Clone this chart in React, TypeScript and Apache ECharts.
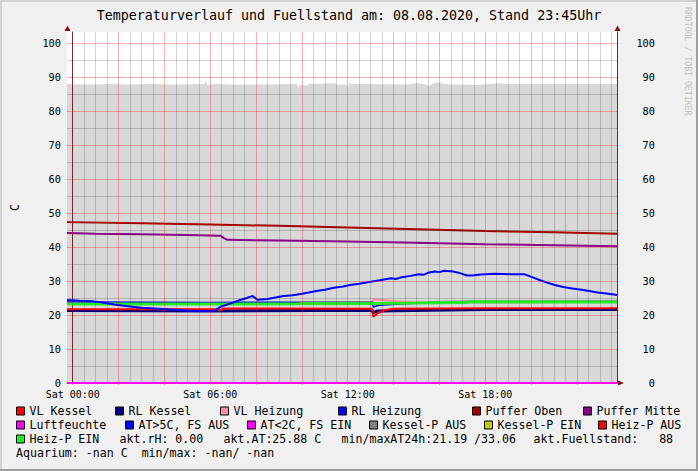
import React, { useEffect, useRef } from 'react';
import * as echarts from 'echarts';

// ---------- texts ----------
const TITLE = 'Temperaturverlauf und Fuellstand am: 08.08.2020, Stand 23:45Uhr';
const Y_NAME = 'C';
const WATERMARK = 'RRDTOOL / TOBI OETIKER';
const X_TICK_HOURS = [0, 6, 12, 18];
const X_TICK_LABELS = ['Sat 00:00', 'Sat 06:00', 'Sat 12:00', 'Sat 18:00'];
const Y_TICKS = [0, 10, 20, 30, 40, 50, 60, 70, 80, 90, 100];
const INFO_ROW3 = ['akt.rH: 0.00', 'akt.AT:25.88 C', 'min/maxAT24h:21.19 /33.06', 'akt.Fuellstand:   88'];
const INFO_ROW4 = 'Aquarium: -nan C  min/max: -nan/ -nan';

// ---------- grid positions (hours / degrees) ----------
const GRID_MAJOR_HOURS = [0, 2, 4, 6, 8, 10, 12, 14, 16, 18, 20, 22];
const GRID_MINOR_HOURS = [
  0.5, 1, 1.5, 2.5, 3, 3.5, 4.5, 5, 5.5, 6.5, 7, 7.5, 8.5, 9, 9.5, 10.5, 11, 11.5,
  12.5, 13, 13.5, 14.5, 15, 15.5, 16.5, 17, 17.5, 18.5, 19, 19.5, 20.5, 21, 21.5, 22.5, 23, 23.5,
];
const GRID_MAJOR_Y = [10, 20, 30, 40, 50, 60, 70, 80, 90, 100];
const GRID_MINOR_Y = [5, 15, 25, 35, 45, 55, 65, 75, 85, 95];

// ---------- data: [hour, value] ----------
const FUELLSTAND: [number, number][] = [
  [-0.25, 87.9], [1.0, 87.8], [1.6, 87.9], [2.4, 87.8], [3.3, 87.9], [4.5, 87.8], [5.75, 87.9],
  [5.8, 89.0], [5.85, 87.8], [6.3, 87.9], [7.3, 87.7], [8.5, 87.8], [9.5, 87.9], [9.8, 87.9],
  [9.85, 86.6], [9.9, 87.8], [10.2, 87.4], [10.3, 87.9], [11.4, 88.1], [11.6, 87.7], [12.0, 87.8],
  [12.03, 86.3], [12.07, 88.9], [12.12, 87.9], [12.6, 87.9], [14.5, 87.8], [15.1, 88.1], [15.3, 87.9],
  [15.55, 87.4], [15.7, 87.9], [15.9, 88.4], [16.2, 87.9], [17.6, 87.6], [18.6, 88.1], [19.0, 87.9],
  [23.75, 87.9],
];
const PUFFER_OBEN: [number, number][] = [
  [-0.25, 47.3], [3, 47.0], [6, 46.6], [9, 46.2], [12, 45.7], [15, 45.2], [18, 44.7], [21, 44.3], [23.75, 43.9],
];
const PUFFER_MITTE: [number, number][] = [
  [-0.25, 44.1], [1, 43.9], [3, 43.7], [5, 43.5], [6.45, 43.3], [6.6, 42.6], [6.75, 42.1], [9, 41.9],
  [12, 41.6], [15, 41.2], [18, 40.8], [21, 40.5], [23.75, 40.2],
];
const RL_KESSEL: [number, number][] = [
  [-0.25, 21.3], [6, 21.2], [13.05, 21.4], [13.12, 20.7], [13.3, 21.2], [18, 21.6], [23.75, 21.6],
];
const VL_KESSEL: [number, number][] = [
  [-0.25, 21.7], [6.3, 21.7], [6.4, 21.3], [6.6, 21.9], [13.05, 21.8], [13.12, 19.5], [13.3, 20.5],
  [13.6, 21.4], [14, 21.8], [18, 22.0], [23.75, 22.0],
];
const VL_HEIZUNG: [number, number][] = [
  [-0.25, 23.4], [13.08, 23.5], [13.12, 24.6], [13.5, 24.4], [14.0, 24.1], [14.5, 23.9], [15, 23.7], [23.75, 23.8],
];
const RL_HEIZUNG: [number, number][] = [
  [-0.25, 23.8], [6, 23.7], [12, 23.8], [13.05, 23.9], [13.12, 22.3], [13.3, 22.8], [13.7, 23.0],
  [14.5, 23.3], [15.5, 23.6], [18, 23.8], [23.75, 24.0],
];
const KESSEL_P_AUS: [number, number | null][] = [
  [9.9, 23.8], [13.05, 23.9], [13.12, null], [15.5, 23.9], [18, 24.1], [23.75, 24.1],
];
const KESSEL_P_EIN: [number, number][] = [];
const HEIZ_P_EIN: [number, number][] = [
  [-0.25, 23.2], [6, 23.2], [9.9, 23.3], [13, 23.4], [15, 23.5], [17.2, 23.7], [17.3, 23.9], [20, 23.8], [23.75, 23.8],
];
const HEIZ_P_AUS: [number, number][] = [];
const AT_UEBER_5: [number, number][] = [
  [-0.25, 24.4], [0.3, 24.2], [0.9, 24.0], [1.3, 23.7], [1.8, 23.1], [2.4, 22.6], [3.0, 22.1], [3.6, 21.9],
  [4.1, 21.7], [4.8, 21.4], [5.4, 21.2], [6.0, 21.2], [6.2, 21.3], [6.45, 22.4], [6.9, 23.4], [7.3, 24.4],
  [7.6, 25.0], [7.85, 25.6], [8.05, 24.5], [8.5, 24.7], [8.9, 25.2], [9.2, 25.6], [9.6, 25.8], [9.95, 26.2],
  [10.3, 26.6], [10.7, 27.1], [11.0, 27.4], [11.4, 28.0], [11.8, 28.4], [12.1, 28.8], [12.5, 29.2],
  [13.0, 29.8], [13.4, 30.2], [13.9, 30.8], [14.1, 30.6], [14.3, 31.0], [14.75, 31.5], [15.1, 32.0],
  [15.3, 31.8], [15.5, 32.4], [15.8, 32.8], [16.0, 32.6], [16.2, 33.0], [16.6, 32.8], [16.9, 32.3],
  [17.2, 31.6], [17.5, 31.7], [17.8, 31.9], [18.4, 32.1], [19.1, 32.0], [19.7, 32.0], [20.1, 31.0],
  [20.4, 30.2], [20.7, 29.5], [21.0, 28.9], [21.4, 28.2], [21.8, 27.8], [22.2, 27.4], [22.6, 27.0],
  [22.9, 26.6], [23.3, 26.3], [23.75, 25.9],
];
const AT_UNTER_2: [number, number][] = [];
const LUFTFEUCHTE: [number, number][] = [[-0.25, 0], [23.75, 0]];

// ---------- series styling ----------
const SERIES = [
  { name: 'Puffer Oben', data: PUFFER_OBEN, color: '#a50000', width: 2 },
  { name: 'Puffer Mitte', data: PUFFER_MITTE, color: '#880088', width: 2 },
  { name: 'RL Kessel', data: RL_KESSEL, color: '#00007f', width: 3 },
  { name: 'VL Kessel', data: VL_KESSEL, color: '#ff0000', width: 2 },
  { name: 'VL Heizung', data: VL_HEIZUNG, color: '#ff8da1', width: 2 },
  { name: 'RL Heizung', data: RL_HEIZUNG, color: '#0000ff', width: 1.5 },
  { name: 'Kessel-P AUS', data: KESSEL_P_AUS, color: '#808080', width: 1.5 },
  { name: 'Kessel-P EIN', data: KESSEL_P_EIN, color: '#c8c800', width: 1.5 },
  { name: 'Heiz-P EIN', data: HEIZ_P_EIN, color: '#22ee22', width: 3 },
  { name: 'Heiz-P AUS', data: HEIZ_P_AUS, color: '#ff0000', width: 2 },
  { name: 'AT>5C, FS AUS', data: AT_UEBER_5, color: '#0000ff', width: 2 },
  { name: 'AT<2C, FS EIN', data: AT_UNTER_2, color: '#ff00ff', width: 2 },
  { name: 'Luftfeuchte', data: LUFTFEUCHTE, color: '#ff00ff', width: 2 },
];

// legend layout: [name, left, rowCenterY]
const LEGEND_LAYOUT: [string, number, number][] = [
  ['VL Kessel', 16, 411], ['RL Kessel', 115, 411], ['VL Heizung', 220, 411], ['RL Heizung', 338, 411],
  ['Puffer Oben', 472, 411], ['Puffer Mitte', 583, 411],
  ['Luftfeuchte', 16, 425], ['AT>5C, FS AUS', 125, 425], ['AT<2C, FS EIN', 247, 425], ['Kessel-P AUS', 369, 425],
  ['Kessel-P EIN', 484, 425], ['Heiz-P AUS', 598, 425],
  ['Heiz-P EIN', 16, 439],
];
const INFO_ROW3_X = [120, 224, 342, 534];

const MONO = "'DejaVu Sans Mono', monospace";
const RED_GRID = 'rgba(255,0,0,0.3)';
const GRAY_GRID = 'rgba(0,0,0,0.17)';

export default function App() {
  const ref = useRef<HTMLDivElement>(null);

  useEffect(() => {
    if (!ref.current) return;
    const chart = echarts.init(ref.current, undefined, { renderer: 'svg' });

    const gridLines: any[] = [
      ...GRID_MINOR_HOURS.map((h) => ({ xAxis: h, lineStyle: { color: GRAY_GRID, width: 1, type: 'solid' } })),
      ...GRID_MINOR_Y.map((v) => ({ yAxis: v, lineStyle: { color: GRAY_GRID, width: 1, type: 'solid' } })),
      ...GRID_MAJOR_HOURS.map((h) => ({ xAxis: h, lineStyle: { color: RED_GRID, width: 1, type: 'solid' } })),
      ...GRID_MAJOR_Y.map((v) => ({ yAxis: v, lineStyle: { color: RED_GRID, width: 1, type: 'solid' } })),
    ];

    const axisLine = { show: true, lineStyle: { color: '#3a3a3a', width: 1 } };

    const option: any = {
      animation: false,
      title: {
        text: TITLE,
        left: 'center',
        top: 9,
        padding: 0,
        textStyle: { fontFamily: MONO, fontSize: 13.3, fontWeight: 'normal', color: '#000' },
      },
      grid: { left: 67, right: 81, top: 32, bottom: 88, show: true, backgroundColor: '#ffffff', borderWidth: 0 },
      xAxis: {
        type: 'value',
        min: -0.25,
        max: 23.75,
        z: 3,
        axisLine,
        splitLine: { show: false },
        axisTick: { show: true, customValues: GRID_MAJOR_HOURS, length: 2, lineStyle: { color: RED_GRID } },
        axisLabel: {
          customValues: X_TICK_HOURS,
          formatter: (v: number) => X_TICK_LABELS[X_TICK_HOURS.indexOf(v)] ?? '',
          fontFamily: MONO,
          fontSize: 10,
          color: '#000',
          margin: 6,
        },
      },
      yAxis: [
        {
          type: 'value',
          min: 0,
          max: 103.2,
          z: 3,
          name: Y_NAME,
          nameLocation: 'middle',
          nameGap: 46,
          nameTextStyle: { fontFamily: MONO, fontSize: 11.6, color: '#000' },
          axisLine,
          splitLine: { show: false },
          axisTick: { show: false },
          axisLabel: { customValues: Y_TICKS, fontFamily: MONO, fontSize: 10.3, color: '#000', margin: 6 },
        },
        {
          type: 'value',
          position: 'right',
          min: 0,
          max: 103.2,
          z: 3,
          axisLine,
          splitLine: { show: false },
          axisTick: { show: false },
          axisLabel: { customValues: Y_TICKS, fontFamily: MONO, fontSize: 10.3, color: '#000', margin: 38, align: 'right' },
        },
      ],
      legend: LEGEND_LAYOUT.map(([name, left, cy]) => ({
        data: [name],
        left,
        top: cy - 7,
        padding: 0,
        itemGap: 0,
        itemWidth: 8,
        itemHeight: 8,
        icon: 'rect',
        selectedMode: false,
        itemStyle: { borderColor: '#000', borderWidth: 1 },
        lineStyle: { opacity: 0 },
        textStyle: { fontFamily: MONO, fontSize: 11.6, color: '#000', lineHeight: 14, padding: 0 },
      })),
      graphic: [
        {
          type: 'text',
          x: 688,
          y: 7,
          rotation: -Math.PI / 2,
          style: { text: WATERMARK, fontFamily: MONO, fontSize: 8.2, fill: '#c4c4c4', align: 'left', verticalAlign: 'middle' },
        },
        ...INFO_ROW3.map((t, i) => ({
          type: 'text',
          x: INFO_ROW3_X[i] - 0.5,
          y: 439,
          style: { text: t, fontFamily: MONO, fontSize: 11.6, fill: '#000', align: 'left', verticalAlign: 'middle' },
        })),
        {
          type: 'text',
          x: 16,
          y: 453,
          style: { text: INFO_ROW4, fontFamily: MONO, fontSize: 11.6, fill: '#000', align: 'left', verticalAlign: 'middle' },
        },
        { type: 'polygon', shape: { points: [[64.5, 31], [70.5, 31], [67.5, 25.5]] }, style: { fill: '#7f1010' }, z: 10 },
        { type: 'polygon', shape: { points: [[614.5, 31], [620.5, 31], [617.5, 25.5]] }, style: { fill: '#7f1010' }, z: 10 },
        { type: 'polygon', shape: { points: [[618, 380.5], [618, 385.5], [624, 383]] }, style: { fill: '#7f1010' }, z: 10 },
      ],
      series: [
        {
          type: 'line',
          name: 'Fuellstand',
          data: FUELLSTAND,
          z: 1,
          showSymbol: false,
          symbol: 'none',
          lineStyle: { width: 0 },
          areaStyle: { color: '#d8d8d8', opacity: 1 },
          silent: true,
        },
        {
          type: 'line',
          name: 'grid',
          data: [],
          z: 2,
          silent: true,
          markLine: {
            silent: true,
            symbol: ['none', 'none'],
            label: { show: false },
            emphasis: { disabled: true },
            data: gridLines,
          },
        },
        ...SERIES.map((s) => ({
          type: 'line',
          name: s.name,
          data: s.data,
          z: 4,
          showSymbol: false,
          symbol: 'none',
          connectNulls: false,
          color: s.color,
          lineStyle: { color: s.color, width: s.width },
          itemStyle: { color: s.color },
          emphasis: { disabled: true },
          silent: true,
        })),
      ],
    };

    chart.setOption(option);
    return () => chart.dispose();
  }, []);

  return (
    <div
      style={{
        position: 'fixed',
        left: 0,
        top: 0,
        width: 698,
        height: 471,
        background: '#f0f0f0',
        boxShadow: 'inset -2px -2px 0 #9e9e9e, inset 2px 2px 0 #d2d2d2',
      }}
    >
      <div ref={ref} style={{ width: 698, height: 471 }} />
    </div>
  );
}
